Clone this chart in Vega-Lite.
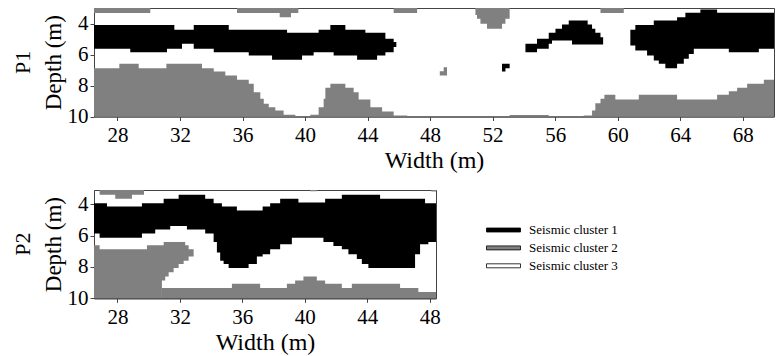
{
  "$schema": "https://vega.github.io/schema/vega-lite/v6.json",
  "padding": {"left": 11, "top": 7, "right": 0, "bottom": 0},
  "background": "white",
  "datasets": {
    "p1": [
      {"blob": "T1", "cluster": "Seismic cluster 2", "x": 26.5, "top": 3, "bottom": 3.33},
      {"blob": "T1", "cluster": "Seismic cluster 2", "x": 30.1, "top": 3, "bottom": 3.33},
      {"blob": "T2", "cluster": "Seismic cluster 2", "x": 35.65, "top": 3, "bottom": 3.33},
      {"blob": "T2", "cluster": "Seismic cluster 2", "x": 38.38, "top": 3, "bottom": 3.59},
      {"blob": "T2", "cluster": "Seismic cluster 2", "x": 39.1, "top": 3, "bottom": 3.33},
      {"blob": "T2", "cluster": "Seismic cluster 2", "x": 39.57, "top": 3, "bottom": 3.33},
      {"blob": "T3", "cluster": "Seismic cluster 2", "x": 45.67, "top": 3, "bottom": 3.33},
      {"blob": "T3", "cluster": "Seismic cluster 2", "x": 47.17, "top": 3, "bottom": 3.33},
      {"blob": "T4", "cluster": "Seismic cluster 2", "x": 50.9, "top": 3, "bottom": 3.45},
      {"blob": "T4", "cluster": "Seismic cluster 2", "x": 51.0, "top": 3, "bottom": 3.7},
      {"blob": "T4", "cluster": "Seismic cluster 2", "x": 51.22, "top": 3, "bottom": 4.02},
      {"blob": "T4", "cluster": "Seismic cluster 2", "x": 51.64, "top": 3, "bottom": 4.34},
      {"blob": "T4", "cluster": "Seismic cluster 2", "x": 52.6, "top": 3, "bottom": 4.02},
      {"blob": "T4", "cluster": "Seismic cluster 2", "x": 52.82, "top": 3, "bottom": 3.7},
      {"blob": "T4", "cluster": "Seismic cluster 2", "x": 53.09, "top": 3, "bottom": 3.7},
      {"blob": "T5", "cluster": "Seismic cluster 2", "x": 58.9, "top": 3, "bottom": 3.33},
      {"blob": "T5", "cluster": "Seismic cluster 2", "x": 60.39, "top": 3, "bottom": 3.33},
      {"blob": "S1", "cluster": "Seismic cluster 2", "x": 48.62, "top": 7.08, "bottom": 7.35},
      {"blob": "S1", "cluster": "Seismic cluster 2", "x": 48.87, "top": 6.82, "bottom": 7.35},
      {"blob": "S1", "cluster": "Seismic cluster 2", "x": 49.08, "top": 6.82, "bottom": 7.35},
      {"blob": "G1a", "cluster": "Seismic cluster 2", "x": 26.5, "top": 6.88, "bottom": 10},
      {"blob": "G1a", "cluster": "Seismic cluster 2", "x": 28.12, "top": 6.6, "bottom": 10},
      {"blob": "G1a", "cluster": "Seismic cluster 2", "x": 29.36, "top": 6.88, "bottom": 10},
      {"blob": "G1a", "cluster": "Seismic cluster 2", "x": 31.13, "top": 6.6, "bottom": 10},
      {"blob": "G1a", "cluster": "Seismic cluster 2", "x": 33.41, "top": 6.88, "bottom": 10},
      {"blob": "G1a", "cluster": "Seismic cluster 2", "x": 34.16, "top": 7.1, "bottom": 10},
      {"blob": "G1a", "cluster": "Seismic cluster 2", "x": 34.9, "top": 7.35, "bottom": 10},
      {"blob": "G1a", "cluster": "Seismic cluster 2", "x": 35.65, "top": 7.63, "bottom": 10},
      {"blob": "G1a", "cluster": "Seismic cluster 2", "x": 36.4, "top": 7.89, "bottom": 10},
      {"blob": "G1a", "cluster": "Seismic cluster 2", "x": 36.72, "top": 8.43, "bottom": 10},
      {"blob": "G1a", "cluster": "Seismic cluster 2", "x": 37.14, "top": 8.86, "bottom": 10},
      {"blob": "G1a", "cluster": "Seismic cluster 2", "x": 37.36, "top": 9.18, "bottom": 10},
      {"blob": "G1a", "cluster": "Seismic cluster 2", "x": 37.68, "top": 9.4, "bottom": 10},
      {"blob": "G1a", "cluster": "Seismic cluster 2", "x": 38.1, "top": 9.61, "bottom": 10},
      {"blob": "G1a", "cluster": "Seismic cluster 2", "x": 38.63, "top": 9.89, "bottom": 10},
      {"blob": "G1a", "cluster": "Seismic cluster 2", "x": 39.38, "top": 10, "bottom": 10},
      {"blob": "G1a", "cluster": "Seismic cluster 2", "x": 40.34, "top": 9.89, "bottom": 10},
      {"blob": "G1a", "cluster": "Seismic cluster 2", "x": 40.87, "top": 9.4, "bottom": 10},
      {"blob": "G1a", "cluster": "Seismic cluster 2", "x": 41.19, "top": 8.86, "bottom": 10},
      {"blob": "G1a", "cluster": "Seismic cluster 2", "x": 41.3, "top": 8.15, "bottom": 10},
      {"blob": "G1a", "cluster": "Seismic cluster 2", "x": 41.62, "top": 7.89, "bottom": 10},
      {"blob": "G1a", "cluster": "Seismic cluster 2", "x": 42.58, "top": 8.15, "bottom": 10},
      {"blob": "G1a", "cluster": "Seismic cluster 2", "x": 43.11, "top": 8.43, "bottom": 10},
      {"blob": "G1a", "cluster": "Seismic cluster 2", "x": 43.43, "top": 8.9, "bottom": 10},
      {"blob": "G1a", "cluster": "Seismic cluster 2", "x": 44.18, "top": 9.4, "bottom": 10},
      {"blob": "G1a", "cluster": "Seismic cluster 2", "x": 44.93, "top": 9.68, "bottom": 10},
      {"blob": "G1a", "cluster": "Seismic cluster 2", "x": 45.67, "top": 9.94, "bottom": 10},
      {"blob": "G1a", "cluster": "Seismic cluster 2", "x": 46.53, "top": 9.94, "bottom": 10},
      {"blob": "G1b", "cluster": "Seismic cluster 2", "x": 53.09, "top": 9.9, "bottom": 10},
      {"blob": "G1b", "cluster": "Seismic cluster 2", "x": 55.59, "top": 9.9, "bottom": 10},
      {"blob": "G1c", "cluster": "Seismic cluster 2", "x": 57.83, "top": 9.94, "bottom": 10},
      {"blob": "G1c", "cluster": "Seismic cluster 2", "x": 58.36, "top": 9.61, "bottom": 10},
      {"blob": "G1c", "cluster": "Seismic cluster 2", "x": 58.57, "top": 9.14, "bottom": 10},
      {"blob": "G1c", "cluster": "Seismic cluster 2", "x": 58.9, "top": 8.86, "bottom": 10},
      {"blob": "G1c", "cluster": "Seismic cluster 2", "x": 59.15, "top": 8.6, "bottom": 10},
      {"blob": "G1c", "cluster": "Seismic cluster 2", "x": 59.85, "top": 8.9, "bottom": 10},
      {"blob": "G1c", "cluster": "Seismic cluster 2", "x": 61.35, "top": 8.6, "bottom": 10},
      {"blob": "G1c", "cluster": "Seismic cluster 2", "x": 63.8, "top": 8.9, "bottom": 10},
      {"blob": "G1c", "cluster": "Seismic cluster 2", "x": 66.36, "top": 8.6, "bottom": 10},
      {"blob": "G1c", "cluster": "Seismic cluster 2", "x": 67.11, "top": 8.37, "bottom": 10},
      {"blob": "G1c", "cluster": "Seismic cluster 2", "x": 67.64, "top": 8.15, "bottom": 10},
      {"blob": "G1c", "cluster": "Seismic cluster 2", "x": 68.28, "top": 7.89, "bottom": 10},
      {"blob": "G1c", "cluster": "Seismic cluster 2", "x": 69.35, "top": 7.63, "bottom": 10},
      {"blob": "G1c", "cluster": "Seismic cluster 2", "x": 70.0, "top": 7.63, "bottom": 10},
      {"blob": "B1a", "cluster": "Seismic cluster 1", "x": 26.5, "top": 4.09, "bottom": 5.63},
      {"blob": "B1a", "cluster": "Seismic cluster 1", "x": 28.82, "top": 4.09, "bottom": 5.85},
      {"blob": "B1a", "cluster": "Seismic cluster 1", "x": 31.17, "top": 4.09, "bottom": 5.63},
      {"blob": "B1a", "cluster": "Seismic cluster 1", "x": 31.64, "top": 4.41, "bottom": 5.63},
      {"blob": "B1a", "cluster": "Seismic cluster 1", "x": 32.13, "top": 4.41, "bottom": 5.31},
      {"blob": "B1a", "cluster": "Seismic cluster 1", "x": 32.88, "top": 4.09, "bottom": 5.63},
      {"blob": "B1a", "cluster": "Seismic cluster 1", "x": 34.16, "top": 4.09, "bottom": 5.85},
      {"blob": "B1a", "cluster": "Seismic cluster 1", "x": 35.12, "top": 4.41, "bottom": 5.85},
      {"blob": "B1a", "cluster": "Seismic cluster 1", "x": 36.4, "top": 4.41, "bottom": 6.06},
      {"blob": "B1a", "cluster": "Seismic cluster 1", "x": 37.89, "top": 4.41, "bottom": 6.34},
      {"blob": "B1a", "cluster": "Seismic cluster 1", "x": 38.85, "top": 4.6, "bottom": 6.34},
      {"blob": "B1a", "cluster": "Seismic cluster 1", "x": 39.81, "top": 4.6, "bottom": 6.06},
      {"blob": "B1a", "cluster": "Seismic cluster 1", "x": 40.55, "top": 4.6, "bottom": 5.85},
      {"blob": "B1a", "cluster": "Seismic cluster 1", "x": 40.87, "top": 4.41, "bottom": 5.85},
      {"blob": "B1a", "cluster": "Seismic cluster 1", "x": 41.62, "top": 4.09, "bottom": 5.85},
      {"blob": "B1a", "cluster": "Seismic cluster 1", "x": 41.83, "top": 4.09, "bottom": 6.06},
      {"blob": "B1a", "cluster": "Seismic cluster 1", "x": 42.58, "top": 4.41, "bottom": 6.06},
      {"blob": "B1a", "cluster": "Seismic cluster 1", "x": 43.33, "top": 4.41, "bottom": 6.34},
      {"blob": "B1a", "cluster": "Seismic cluster 1", "x": 43.86, "top": 4.6, "bottom": 6.34},
      {"blob": "B1a", "cluster": "Seismic cluster 1", "x": 44.61, "top": 4.6, "bottom": 6.06},
      {"blob": "B1a", "cluster": "Seismic cluster 1", "x": 45.14, "top": 4.99, "bottom": 5.85},
      {"blob": "B1a", "cluster": "Seismic cluster 1", "x": 45.67, "top": 5.2, "bottom": 5.52},
      {"blob": "B1a", "cluster": "Seismic cluster 1", "x": 45.84, "top": 5.2, "bottom": 5.52},
      {"blob": "B1b", "cluster": "Seismic cluster 1", "x": 54.1, "top": 5.31, "bottom": 5.85},
      {"blob": "B1b", "cluster": "Seismic cluster 1", "x": 54.84, "top": 4.99, "bottom": 5.63},
      {"blob": "B1b", "cluster": "Seismic cluster 1", "x": 55.59, "top": 4.6, "bottom": 5.31},
      {"blob": "B1b", "cluster": "Seismic cluster 1", "x": 55.8, "top": 4.6, "bottom": 5.1},
      {"blob": "B1b", "cluster": "Seismic cluster 1", "x": 56.02, "top": 4.34, "bottom": 5.1},
      {"blob": "B1b", "cluster": "Seismic cluster 1", "x": 56.44, "top": 4.06, "bottom": 5.1},
      {"blob": "B1b", "cluster": "Seismic cluster 1", "x": 56.87, "top": 3.81, "bottom": 5.1},
      {"blob": "B1b", "cluster": "Seismic cluster 1", "x": 57.08, "top": 3.81, "bottom": 5.35},
      {"blob": "B1b", "cluster": "Seismic cluster 1", "x": 58.08, "top": 4.06, "bottom": 5.35},
      {"blob": "B1b", "cluster": "Seismic cluster 1", "x": 58.36, "top": 4.34, "bottom": 5.35},
      {"blob": "B1b", "cluster": "Seismic cluster 1", "x": 58.57, "top": 4.6, "bottom": 5.35},
      {"blob": "B1b", "cluster": "Seismic cluster 1", "x": 58.9, "top": 4.88, "bottom": 5.35},
      {"blob": "B1b", "cluster": "Seismic cluster 1", "x": 59.07, "top": 4.88, "bottom": 5.35},
      {"blob": "B1c", "cluster": "Seismic cluster 1", "x": 60.81, "top": 4.41, "bottom": 5.42},
      {"blob": "B1c", "cluster": "Seismic cluster 1", "x": 61.13, "top": 4.09, "bottom": 5.74},
      {"blob": "B1c", "cluster": "Seismic cluster 1", "x": 61.88, "top": 4.09, "bottom": 6.06},
      {"blob": "B1c", "cluster": "Seismic cluster 1", "x": 62.31, "top": 3.81, "bottom": 6.39},
      {"blob": "B1c", "cluster": "Seismic cluster 1", "x": 62.63, "top": 3.81, "bottom": 6.6},
      {"blob": "B1c", "cluster": "Seismic cluster 1", "x": 63.05, "top": 3.81, "bottom": 6.88},
      {"blob": "B1c", "cluster": "Seismic cluster 1", "x": 63.8, "top": 3.59, "bottom": 6.6},
      {"blob": "B1c", "cluster": "Seismic cluster 1", "x": 64.23, "top": 3.59, "bottom": 6.28},
      {"blob": "B1c", "cluster": "Seismic cluster 1", "x": 64.33, "top": 3.31, "bottom": 6.28},
      {"blob": "B1c", "cluster": "Seismic cluster 1", "x": 64.55, "top": 3.31, "bottom": 5.96},
      {"blob": "B1c", "cluster": "Seismic cluster 1", "x": 64.87, "top": 3.31, "bottom": 5.63},
      {"blob": "B1c", "cluster": "Seismic cluster 1", "x": 65.29, "top": 3.1, "bottom": 5.63},
      {"blob": "B1c", "cluster": "Seismic cluster 1", "x": 66.36, "top": 3.31, "bottom": 5.63},
      {"blob": "B1c", "cluster": "Seismic cluster 1", "x": 67.11, "top": 3.31, "bottom": 5.85},
      {"blob": "B1c", "cluster": "Seismic cluster 1", "x": 69.03, "top": 3.31, "bottom": 5.63},
      {"blob": "B1c", "cluster": "Seismic cluster 1", "x": 70.0, "top": 3.31, "bottom": 5.63},
      {"blob": "B1d", "cluster": "Seismic cluster 1", "x": 52.6, "top": 6.6, "bottom": 7.1},
      {"blob": "B1d", "cluster": "Seismic cluster 1", "x": 52.82, "top": 6.6, "bottom": 6.88},
      {"blob": "B1d", "cluster": "Seismic cluster 1", "x": 53.09, "top": 6.6, "bottom": 6.88}
    ],
    "p2": [
      {"blob": "T1", "cluster": "Seismic cluster 2", "x": 26.86, "top": 3.1, "bottom": 3.41},
      {"blob": "T1", "cluster": "Seismic cluster 2", "x": 27.86, "top": 3.1, "bottom": 3.66},
      {"blob": "T1", "cluster": "Seismic cluster 2", "x": 28.93, "top": 3.1, "bottom": 3.41},
      {"blob": "T1", "cluster": "Seismic cluster 2", "x": 29.7, "top": 3.1, "bottom": 3.41},
      {"blob": "T2", "cluster": "Seismic cluster 2", "x": 40.34, "top": 3.1, "bottom": 3.18},
      {"blob": "T2", "cluster": "Seismic cluster 2", "x": 40.77, "top": 3.1, "bottom": 3.18},
      {"blob": "T3", "cluster": "Seismic cluster 2", "x": 48.1, "top": 3.1, "bottom": 3.2},
      {"blob": "T3", "cluster": "Seismic cluster 2", "x": 48.4, "top": 3.1, "bottom": 3.2},
      {"blob": "G2a", "cluster": "Seismic cluster 2", "x": 26.5, "top": 6.62, "bottom": 10},
      {"blob": "G2a", "cluster": "Seismic cluster 2", "x": 26.86, "top": 6.87, "bottom": 10},
      {"blob": "G2a", "cluster": "Seismic cluster 2", "x": 29.89, "top": 6.62, "bottom": 10},
      {"blob": "G2a", "cluster": "Seismic cluster 2", "x": 30.85, "top": 6.62, "bottom": 8.86},
      {"blob": "G2a", "cluster": "Seismic cluster 2", "x": 30.96, "top": 6.41, "bottom": 8.86},
      {"blob": "G2a", "cluster": "Seismic cluster 2", "x": 31.06, "top": 6.41, "bottom": 8.61},
      {"blob": "G2a", "cluster": "Seismic cluster 2", "x": 31.28, "top": 6.41, "bottom": 8.34},
      {"blob": "G2a", "cluster": "Seismic cluster 2", "x": 31.6, "top": 6.41, "bottom": 8.07},
      {"blob": "G2a", "cluster": "Seismic cluster 2", "x": 31.92, "top": 6.41, "bottom": 7.82},
      {"blob": "G2a", "cluster": "Seismic cluster 2", "x": 32.24, "top": 6.41, "bottom": 7.6},
      {"blob": "G2a", "cluster": "Seismic cluster 2", "x": 32.34, "top": 6.62, "bottom": 7.6},
      {"blob": "G2a", "cluster": "Seismic cluster 2", "x": 32.56, "top": 6.87, "bottom": 7.33},
      {"blob": "G2a", "cluster": "Seismic cluster 2", "x": 32.88, "top": 6.87, "bottom": 7.33},
      {"blob": "G2b", "cluster": "Seismic cluster 2", "x": 30.85, "top": 9.35, "bottom": 10},
      {"blob": "G2b", "cluster": "Seismic cluster 2", "x": 35.33, "top": 9.07, "bottom": 10},
      {"blob": "G2b", "cluster": "Seismic cluster 2", "x": 37.14, "top": 9.35, "bottom": 10},
      {"blob": "G2b", "cluster": "Seismic cluster 2", "x": 38.85, "top": 9.07, "bottom": 10},
      {"blob": "G2b", "cluster": "Seismic cluster 2", "x": 39.38, "top": 8.86, "bottom": 10},
      {"blob": "G2b", "cluster": "Seismic cluster 2", "x": 39.91, "top": 8.61, "bottom": 10},
      {"blob": "G2b", "cluster": "Seismic cluster 2", "x": 40.77, "top": 8.86, "bottom": 10},
      {"blob": "G2b", "cluster": "Seismic cluster 2", "x": 41.3, "top": 9.07, "bottom": 10},
      {"blob": "G2b", "cluster": "Seismic cluster 2", "x": 42.37, "top": 9.35, "bottom": 10},
      {"blob": "G2b", "cluster": "Seismic cluster 2", "x": 43.01, "top": 9.07, "bottom": 10},
      {"blob": "G2b", "cluster": "Seismic cluster 2", "x": 46.1, "top": 9.35, "bottom": 10},
      {"blob": "G2b", "cluster": "Seismic cluster 2", "x": 47.27, "top": 9.6, "bottom": 10},
      {"blob": "G2b", "cluster": "Seismic cluster 2", "x": 48.4, "top": 9.6, "bottom": 10},
      {"blob": "B2", "cluster": "Seismic cluster 1", "x": 26.5, "top": 3.94, "bottom": 5.87},
      {"blob": "B2", "cluster": "Seismic cluster 1", "x": 26.86, "top": 3.94, "bottom": 6.14},
      {"blob": "B2", "cluster": "Seismic cluster 1", "x": 27.33, "top": 4.15, "bottom": 6.14},
      {"blob": "B2", "cluster": "Seismic cluster 1", "x": 29.57, "top": 3.94, "bottom": 5.87},
      {"blob": "B2", "cluster": "Seismic cluster 1", "x": 30.42, "top": 3.94, "bottom": 5.61},
      {"blob": "B2", "cluster": "Seismic cluster 1", "x": 30.96, "top": 3.66, "bottom": 5.61},
      {"blob": "B2", "cluster": "Seismic cluster 1", "x": 31.38, "top": 3.66, "bottom": 5.4},
      {"blob": "B2", "cluster": "Seismic cluster 1", "x": 31.92, "top": 3.41, "bottom": 5.4},
      {"blob": "B2", "cluster": "Seismic cluster 1", "x": 32.45, "top": 3.41, "bottom": 5.61},
      {"blob": "B2", "cluster": "Seismic cluster 1", "x": 33.62, "top": 3.66, "bottom": 5.87},
      {"blob": "B2", "cluster": "Seismic cluster 1", "x": 34.16, "top": 3.94, "bottom": 6.41},
      {"blob": "B2", "cluster": "Seismic cluster 1", "x": 34.37, "top": 3.94, "bottom": 7.08},
      {"blob": "B2", "cluster": "Seismic cluster 1", "x": 34.58, "top": 3.94, "bottom": 7.6},
      {"blob": "B2", "cluster": "Seismic cluster 1", "x": 34.69, "top": 4.15, "bottom": 7.6},
      {"blob": "B2", "cluster": "Seismic cluster 1", "x": 34.8, "top": 4.15, "bottom": 7.82},
      {"blob": "B2", "cluster": "Seismic cluster 1", "x": 35.12, "top": 4.15, "bottom": 8.07},
      {"blob": "B2", "cluster": "Seismic cluster 1", "x": 35.65, "top": 4.4, "bottom": 8.07},
      {"blob": "B2", "cluster": "Seismic cluster 1", "x": 36.4, "top": 4.4, "bottom": 7.82},
      {"blob": "B2", "cluster": "Seismic cluster 1", "x": 36.93, "top": 4.4, "bottom": 7.33},
      {"blob": "B2", "cluster": "Seismic cluster 1", "x": 37.3, "top": 4.15, "bottom": 7.19},
      {"blob": "B2", "cluster": "Seismic cluster 1", "x": 37.78, "top": 3.94, "bottom": 6.87},
      {"blob": "B2", "cluster": "Seismic cluster 1", "x": 38.42, "top": 3.66, "bottom": 6.56},
      {"blob": "B2", "cluster": "Seismic cluster 1", "x": 39.17, "top": 3.66, "bottom": 6.14},
      {"blob": "B2", "cluster": "Seismic cluster 1", "x": 39.59, "top": 3.89, "bottom": 6.14},
      {"blob": "B2", "cluster": "Seismic cluster 1", "x": 41.19, "top": 3.89, "bottom": 6.41},
      {"blob": "B2", "cluster": "Seismic cluster 1", "x": 41.3, "top": 3.66, "bottom": 6.41},
      {"blob": "B2", "cluster": "Seismic cluster 1", "x": 41.83, "top": 3.66, "bottom": 6.66},
      {"blob": "B2", "cluster": "Seismic cluster 1", "x": 42.37, "top": 3.41, "bottom": 6.87},
      {"blob": "B2", "cluster": "Seismic cluster 1", "x": 42.79, "top": 3.41, "bottom": 7.19},
      {"blob": "B2", "cluster": "Seismic cluster 1", "x": 43.33, "top": 3.41, "bottom": 7.5},
      {"blob": "B2", "cluster": "Seismic cluster 1", "x": 43.65, "top": 3.41, "bottom": 7.82},
      {"blob": "B2", "cluster": "Seismic cluster 1", "x": 44.07, "top": 3.41, "bottom": 8.07},
      {"blob": "B2", "cluster": "Seismic cluster 1", "x": 44.82, "top": 3.66, "bottom": 8.07},
      {"blob": "B2", "cluster": "Seismic cluster 1", "x": 47.06, "top": 3.66, "bottom": 7.19},
      {"blob": "B2", "cluster": "Seismic cluster 1", "x": 47.38, "top": 3.66, "bottom": 6.56},
      {"blob": "B2", "cluster": "Seismic cluster 1", "x": 47.7, "top": 3.94, "bottom": 6.56},
      {"blob": "B2", "cluster": "Seismic cluster 1", "x": 47.91, "top": 3.94, "bottom": 6.41},
      {"blob": "B2", "cluster": "Seismic cluster 1", "x": 48.4, "top": 3.94, "bottom": 6.41}
    ]
  },
  "vconcat": [
    {
      "width": 680,
      "height": 108.5,
      "title": {"text": "P1", "orient": "left", "fontSize": 22, "font": "Liberation Serif", "fontWeight": "normal", "color": "#000", "offset": 8},
      "data": {"name": "p1"},
      "encoding": {
        "x": {"field": "x", "type": "quantitative", "scale": {"domain": [26.5, 70], "nice": false, "zero": false},
              "axis": {"title": "Width (m)", "values": [28, 32, 36, 40, 44, 48, 52, 56, 60, 64, 68], "labelOverlap": false}},
        "y": {"field": "top", "type": "quantitative", "scale": {"domain": [3, 10], "reverse": true, "nice": false, "zero": false},
              "axis": {"title": "Depth (m)", "values": [4, 6, 8, 10], "labelOverlap": false, "labelSeparation": 0}},
        "y2": {"field": "bottom"},
        "detail": {"field": "blob"},
        "fill": {"field": "cluster", "type": "nominal",
                 "scale": {"domain": ["Seismic cluster 1", "Seismic cluster 2", "Seismic cluster 3"], "range": ["#000000", "#808080", "#ffffff"]},
                 "legend": null}
      },
      "layer": [
        {
          "transform": [{"filter": "datum.cluster == 'Seismic cluster 2'"}],
          "mark": {"type": "area", "interpolate": "step-after", "clip": true, "opacity": 1}
        },
        {
          "transform": [{"filter": "datum.cluster == 'Seismic cluster 1'"}],
          "mark": {"type": "area", "interpolate": "step-after", "clip": true, "opacity": 1}
        }
      ]
    },
    {
      "width": 342,
      "height": 108.3,
      "title": {"text": "P2", "orient": "left", "fontSize": 22, "font": "Liberation Serif", "fontWeight": "normal", "color": "#000", "offset": 8},
      "data": {"name": "p2"},
      "encoding": {
        "x": {"field": "x", "type": "quantitative", "scale": {"domain": [26.5, 48.4], "nice": false, "zero": false},
              "axis": {"title": "Width (m)", "values": [28, 32, 36, 40, 44, 48], "labelOverlap": false}},
        "y": {"field": "top", "type": "quantitative", "scale": {"domain": [3.1, 10], "reverse": true, "nice": false, "zero": false},
              "axis": {"title": "Depth (m)", "values": [4, 6, 8, 10], "labelOverlap": false, "labelSeparation": 0}},
        "y2": {"field": "bottom"},
        "detail": {"field": "blob"},
        "fill": {"field": "cluster", "type": "nominal",
                 "scale": {"domain": ["Seismic cluster 1", "Seismic cluster 2", "Seismic cluster 3"], "range": ["#000000", "#808080", "#ffffff"]},
                 "legend": {"title": null, "orient": "none", "legendX": 403, "legendY": 33.5}}
      },
      "layer": [
        {
          "transform": [{"filter": "datum.cluster == 'Seismic cluster 2'"}],
          "mark": {"type": "area", "interpolate": "step-after", "clip": true, "opacity": 1}
        },
        {
          "transform": [{"filter": "datum.cluster == 'Seismic cluster 1'"}],
          "mark": {"type": "area", "interpolate": "step-after", "clip": true, "opacity": 1}
        }
      ]
    }
  ],
  "spacing": 16,
  "resolve": {"scale": {"fill": "independent"}, "legend": {"fill": "independent"}},
  "config": {
    "font": "Liberation Serif",
    "view": {"stroke": "#444", "strokeWidth": 1, "fill": "white"},
    "axis": {
      "labelFont": "Liberation Serif", "titleFont": "Liberation Serif",
      "labelFontSize": 21, "titleFontSize": 24, "titleFontWeight": "normal",
      "labelColor": "#000", "titleColor": "#000",
      "tickSize": 4, "tickColor": "#444", "domainColor": "#444",
      "grid": false, "labelPadding": 4, "labelFlush": false, "labelOverlap": false, "titlePadding": 3
    },
    "axisY": {"titleFontSize": 23, "labelPadding": 2, "titlePadding": 1.5},
    "legend": {
      "labelFont": "Liberation Serif", "labelFontSize": 13, "labelColor": "#000",
      "symbolType": "M-8.5,-1L8.5,-1L8.5,1L-8.5,1Z", "symbolSize": 16,
      "symbolStrokeColor": "#000", "symbolStrokeWidth": 0.8, "symbolOpacity": 1,
      "labelOffset": 19, "rowPadding": 3.9, "padding": 0
    }
  }
}
